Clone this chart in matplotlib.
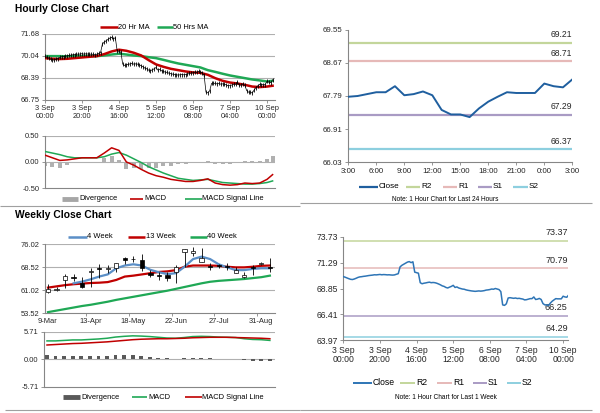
import matplotlib
matplotlib.use('Agg')
import matplotlib.pyplot as plt
from matplotlib.lines import Line2D
from matplotlib.patches import Rectangle

plt.rcParams['font.family'] = ['Liberation Sans', 'DejaVu Sans']

# ---------------- DATA ----------------
hour_tick_labels = ["3 Sep\n00:00", "3 Sep\n20:00", "4 Sep\n16:00", "5 Sep\n12:00",
                    "6 Sep\n08:00", "7 Sep\n04:00", "10 Sep\n00:00"]
hourly_close = [
    69.98, 69.92, 69.85, 69.78, 69.72, 69.70, 69.75, 69.82, 69.90, 69.95,
    69.97, 70.00, 70.02, 70.05, 70.08, 70.10, 70.12, 70.15, 70.14, 70.16,
    70.18, 70.15, 70.17, 70.16, 70.14, 70.15, 70.13, 70.12, 70.14, 70.20,
    70.25, 70.90, 71.05, 71.15, 71.25, 71.35, 71.40, 71.30, 71.38, 70.40,
    70.35, 70.30, 69.40, 69.30, 69.35, 69.38, 69.42, 69.45, 69.40, 69.42,
    69.40, 69.35, 69.28, 69.20, 69.10, 69.05, 68.95, 68.90, 68.98, 69.05,
    69.15, 68.95, 69.00, 68.90, 68.85, 68.80, 68.78, 68.72, 68.68, 68.65,
    68.62, 68.60, 68.58, 68.60, 68.62, 68.60, 68.62, 68.65, 68.70, 68.72,
    68.75, 68.80, 68.78, 68.85, 68.80, 68.75, 68.55, 67.30, 67.25, 67.40,
    67.95, 67.98, 67.95, 67.92, 67.95, 67.90, 67.92, 67.88, 67.85,
    67.77, 67.79, 67.84, 67.89, 67.89, 68.05, 67.81, 67.84, 67.91, 67.81,
    67.42, 67.30, 67.30, 67.23, 67.46, 67.64, 67.77, 67.89, 67.87, 67.87,
    67.87, 68.12, 68.05, 68.02, 68.23]

# hour indices at which the moving averages / MACD were read
ma_hours = [0, 4, 8, 12, 16, 20, 24, 28, 32, 36, 40, 44, 48, 52, 56, 60, 64, 68,
            72, 76, 80, 84, 88, 92, 96, 100, 104, 108, 112, 116, 120, 123]
ma20_hr = [69.85, 69.80, 69.78, 69.80, 69.85, 69.90, 69.95, 70.00, 70.15, 70.35,
           70.48, 70.40, 70.25, 70.05, 69.70, 69.38, 69.20, 69.05, 68.95, 68.85,
           68.78, 68.75, 68.60, 68.35, 68.15, 68.02, 67.95, 67.85, 67.72, 67.68,
           67.72, 67.78]
ma50_hr = [70.00, 70.00, 70.00, 69.98, 70.00, 70.00, 70.00, 70.00, 70.05, 70.12,
           70.18, 70.12, 70.05, 70.00, 69.92, 69.85, 69.72, 69.58, 69.45, 69.35,
           69.25, 69.15, 68.95, 68.82, 68.68, 68.55, 68.45, 68.35, 68.25, 68.18,
           68.10, 68.15]
macd_hr = [0.13, 0.08, 0.03, 0.04, 0.06, 0.08, 0.08, 0.08, 0.17, 0.27,
           0.22, 0.00, -0.06, -0.14, -0.21, -0.26, -0.29, -0.33, -0.35, -0.37,
           -0.37, -0.35, -0.32, -0.40, -0.43, -0.44, -0.43, -0.40, -0.41, -0.40,
           -0.33, -0.24]
signal_hr = [0.20, 0.17, 0.14, 0.10, 0.08, 0.08, 0.08, 0.08, 0.10, 0.15,
             0.18, 0.13, 0.06, -0.01, -0.09, -0.15, -0.21, -0.26, -0.31, -0.33,
             -0.35, -0.34, -0.33, -0.36, -0.39, -0.40, -0.41, -0.42, -0.42, -0.41,
             -0.39, -0.36]

day_tick_labels = ["3:00", "6:00", "9:00", "12:00", "15:00", "18:00", "21:00", "0:00", "3:00"]
day_close = [67.77, 67.79, 67.84, 67.89, 67.89, 68.05, 67.81, 67.84, 67.91, 67.81,
             67.42, 67.30, 67.30, 67.23, 67.46, 67.64, 67.77, 67.89, 67.87, 67.87,
             67.87, 68.12, 68.05, 68.02, 68.23]
pivot_names = ["R2", "R1", "S1", "S2"]
pivot_day = [69.21, 68.71, 67.29, 66.37]
pivot_week = [73.37, 70.79, 66.25, 64.29]

week_tick_labels = ["9-Mar", "13-Apr", "18-May", "22-Jun", "27-Jul", "31-Aug"]
wk_open = [60.5, 61.1, 64.4, 65.2, 63.4, 67.0, 68.3, 68.1, 68.2, 71.6, 71.3, 70.8, 66.8, 66.1,
           65.9, 67.1, 73.4, 73.1, 70.3, 69.0, 69.2, 68.9, 66.8, 65.3, 68.6, 69.7, 68.7]
wk_high = [63.2, 62.0, 66.2, 66.3, 65.2, 68.2, 69.5, 69.3, 69.9, 72.0, 72.3, 72.8, 67.7, 67.1,
           66.9, 69.3, 74.6, 75.3, 74.7, 70.0, 69.5, 69.8, 68.7, 67.1, 69.3, 70.2, 71.5]
wk_low = [60.3, 60.8, 61.7, 64.0, 61.7, 62.0, 64.9, 66.6, 66.9, 69.5, 70.4, 67.2, 65.5, 64.4,
          64.1, 63.3, 68.6, 72.3, 70.2, 67.6, 68.2, 67.6, 66.6, 65.1, 66.0, 69.2, 67.1]
wk_close = [61.6, 61.5, 65.8, 64.9, 62.1, 67.4, 68.1, 68.3, 69.8, 71.0, 71.1, 68.2, 66.1, 65.8,
            64.9, 68.7, 74.4, 73.9, 71.4, 68.7, 69.0, 68.6, 67.6, 66.0, 68.4, 69.9, 68.3]
ma4_wk = [None, None, None, 63.3, 63.85, 64.6, 65.5, 66.2, 68.2, 69.1, 69.5, 69.1, 67.7, 66.9,
          66.3, 66.6, 68.7, 71.2, 72.0, 71.2, 69.5, 68.5, 67.6, 67.6, 68.0, 68.2, 68.2]
ma13_wk = [61.9, 62.3, 62.7, 63.0, 63.2, 63.4, 63.5, 63.7, 64.4, 65.5, 65.8, 66.2, 66.6, 67.0,
           67.2, 67.6, 68.7, 69.1, 69.1, 69.1, 69.0, 68.7, 68.5, 68.5, 68.7, 69.0, 69.1]
ma40_wk = [53.9, 54.4, 54.9, 55.4, 55.9, 56.3, 56.8, 57.3, 57.9, 58.4, 58.9, 59.4, 59.9, 60.4,
           60.9, 61.5, 62.1, 62.7, 63.3, 63.8, 64.1, 64.3, 64.5, 64.7, 65.0, 65.3, 65.8]
macd_wk = [3.80, 3.80, 3.90, 4.00, 4.00, 4.10, 4.20, 4.35, 4.60, 4.75, 4.85, 4.80, 4.70, 4.55,
           4.40, 4.35, 4.50, 4.70, 4.75, 4.70, 4.60, 4.55, 4.50, 4.25, 4.10, 4.05, 3.90]
signal_wk = [2.95, 3.05, 3.15, 3.25, 3.30, 3.40, 3.50, 3.60, 3.75, 3.90, 4.05, 4.15, 4.20, 4.25,
             4.25, 4.30, 4.35, 4.45, 4.50, 4.55, 4.55, 4.55, 4.50, 4.45, 4.40, 4.35, 4.25]

# ---------------- STYLE ----------------
RED = '#c00000'
GREEN = '#1fa855'
BLUE_DARK = '#1f5f9f'
BLUE = '#2e75b6'
BLUE_WK = '#5b8fc7'
PIV_COLORS = ['#c3d69b', '#e6b9b8', '#a99bc4', '#8dcfdf']
AXC = '#868686'
GRIDC = '#b0b0b0'
FS_L = 5.4

W, H = 600, 413
fig = plt.figure(figsize=(6, 4.13), dpi=100)
fig.patch.set_facecolor('white')


def box(l, t, r, b):
    return [l / W, 1 - b / H, (r - l) / W, (b - t) / H]


def ftext(x, y, s, **kw):
    kw.setdefault('va', 'center')
    fig.text(x / W, 1 - y / H, s, **kw)


def fline(x0, x1, y, color, lw):
    fig.add_artist(Line2D([x0 / W, x1 / W], [1 - y / H, 1 - y / H], color=color, lw=lw,
                          transform=fig.transFigure, solid_capstyle='butt'))


def style(ax, fs):
    for s in ['top', 'right']:
        ax.spines[s].set_visible(False)
    for s in ['left', 'bottom']:
        ax.spines[s].set_color(AXC)
        ax.spines[s].set_linewidth(0.8)
    ax.tick_params(labelsize=fs, length=2.5, width=0.6, color=AXC, pad=1.5,
                   labelcolor='#262626')
    ax.set_facecolor('none')


def hgrid(ax, vals):
    for v in vals:
        ax.axhline(v, color=GRIDC, lw=0.8, zorder=0)


# ---------------- A: Hourly close ----------------
axA = fig.add_axes(box(45, 33.7, 275, 99.5))
style(axA, FS_L)
yA = [71.68, 70.04, 68.39, 66.75]
hgrid(axA, yA[:3])
hx = list(range(len(hourly_close)))
axA.plot(ma_hours, ma20_hr, color=RED, lw=1.8, zorder=3)
axA.plot(ma_hours, ma50_hr, color=GREEN, lw=1.8, zorder=2)
axA.plot(hx, hourly_close, color='black', lw=0.5, marker='|', ms=2.2, mew=0.6, zorder=4)
axA.set_ylim(66.75, 71.68)
axA.set_yticks(yA)
axA.set_yticklabels([f"{v:.2f}" for v in yA])
axA.set_xlim(0, 124.3)
axA.set_xticks(range(0, 121, 20))
axA.set_xticklabels(hour_tick_labels, linespacing=1.1)

ftext(15, 9, "Hourly Close Chart", fontsize=7.4, fontweight='bold')
fline(100, 118, 27.3, RED, 1.8)
ftext(118, 27.3, "20 Hr MA", fontsize=FS_L)
fline(157, 173, 27.3, GREEN, 1.8)
ftext(173, 27.3, "50 Hrs MA", fontsize=FS_L)

# ---------------- B: Hourly MACD ----------------
axB = fig.add_axes(box(45, 135.7, 275, 188.3))
style(axB, FS_L)
hgrid(axB, [0.5, 0.0])
div_hr = [m - s for m, s in zip(macd_hr, signal_hr)]
axB.bar(ma_hours, div_hr, width=2.2, color='#b0b0b0', zorder=1)
axB.plot(ma_hours, signal_hr, color=GREEN, lw=1.1, zorder=3)
axB.plot(ma_hours, macd_hr, color=RED, lw=1.1, zorder=4)
axB.set_ylim(-0.5, 0.5)
axB.set_yticks([0.5, 0.0, -0.5])
axB.set_yticklabels(["0.50", "0.00", "-0.50"])
axB.set_xlim(0, 124.3)
axB.set_xticks([])

fline(62, 78, 199, '#a6a6a6', 3.5)
ftext(79, 199, "Divergence", fontsize=FS_L)
fline(130, 143, 199, RED, 1.2)
ftext(144, 199, "MACD", fontsize=FS_L)
fline(185, 202, 199, GREEN, 1.2)
ftext(202, 199, "MACD Signal Line", fontsize=FS_L)

# ---------------- C: 24h chart ----------------
axC = fig.add_axes(box(348.3, 29.7, 572.3, 162.3))
style(axC, 5.7)
for v, c in zip(pivot_day, PIV_COLORS):
    axC.axhline(v, color=c, lw=1.6, zorder=1)
    axC.annotate(f"{v:.2f}", xy=(24, v), xytext=(0, 2.5), textcoords='offset points',
                 ha='right', va='bottom', fontsize=6.2, color='#262626')
axC.plot(range(len(day_close)), day_close, color=BLUE_DARK, lw=1.4, zorder=3)
yC = [69.55, 68.67, 67.79, 66.91, 66.03]
axC.set_ylim(66.03, 69.55)
axC.set_yticks(yC)
axC.set_yticklabels([f"{v:.2f}" for v in yC])
axC.set_xlim(0, 24)
axC.set_xticks(range(0, 25, 3))
axC.set_xticklabels(day_tick_labels)

fline(359, 378, 186.7, BLUE_DARK, 1.6)
ftext(379, 186.7, "Close", fontsize=5.9)
legC = [(406, 420, 421), (443, 457, 458), (478, 492, 493), (513, 528, 529)]
for (a, b, t), n, c in zip(legC, pivot_names, PIV_COLORS):
    fline(a, b, 186.7, c, 1.6)
    ftext(t, 186.7, n, fontsize=5.9)
ftext(445, 200, "Note: 1 Hour Chart for Last 24 Hours", fontsize=4.7, ha='center')

# ---------------- D: Weekly close ----------------
axD = fig.add_axes(box(45, 244.3, 275, 313.3))
style(axD, FS_L)
yD = [76.02, 68.52, 61.02, 53.52]
hgrid(axD, yD[:3])
wx = list(range(len(wk_close)))
axD.plot(wx, ma40_wk, color=GREEN, lw=1.6, zorder=2)
axD.plot(wx, ma13_wk, color=RED, lw=1.6, zorder=2)
axD.plot([x for x, v in zip(wx, ma4_wk) if v is not None],
         [v for v in ma4_wk if v is not None], color=BLUE_WK, lw=1.6, zorder=2)
for x, o, h, l, c in zip(wx, wk_open, wk_high, wk_low, wk_close):
    axD.vlines(x, l, h, color='black', lw=0.6, zorder=4)
    lo, hi = min(o, c), max(o, c)
    face = 'white' if c >= o else 'black'
    axD.add_patch(Rectangle((x - 0.25, lo), 0.5, max(hi - lo, 0.08), facecolor=face,
                            edgecolor='black', lw=0.5, zorder=5))
axD.set_ylim(53.52, 76.02)
axD.set_yticks(yD)
axD.set_yticklabels([f"{v:.2f}" for v in yD])
axD.set_xlim(-0.35, 26.6)
axD.set_xticks(range(0, 26, 5))
axD.set_xticklabels(week_tick_labels)
axD.tick_params(axis='x', which='major', length=0, pad=3.6)
axD.set_xticks([4.5, 9.5, 14.5, 19.5, 24.5], minor=True)
axD.tick_params(axis='x', which='minor', length=2.5, width=0.6, color=AXC)

ftext(15, 215, "Weekly Close Chart", fontsize=7.4, fontweight='bold')
fline(68, 87, 236.7, BLUE_WK, 1.8)
ftext(87, 236.7, "4 Week", fontsize=FS_L)
fline(128, 145, 236.7, RED, 1.8)
ftext(146, 236.7, "13 Week", fontsize=FS_L)
fline(190, 207, 236.7, GREEN, 1.8)
ftext(207, 236.7, "40 Week", fontsize=FS_L)

# ---------------- E: Weekly MACD ----------------
axE = fig.add_axes(box(44, 331.7, 275, 386.7))
style(axE, FS_L)
hgrid(axE, [5.71, 0.0])
div_wk = [m - s for m, s in zip(macd_wk, signal_wk)]
axE.bar(wx, div_wk, width=0.45, color='#595959', zorder=2)
axE.plot(wx, macd_wk, color=GREEN, lw=1.1, zorder=3)
axE.plot(wx, signal_wk, color=RED, lw=1.1, zorder=4)
axE.set_ylim(-5.71, 5.71)
axE.set_yticks([5.71, 0.0, -5.71])
axE.set_yticklabels(["5.71", "0.00", "-5.71"])
axE.set_xlim(-0.35, 26.6)
axE.set_xticks([])

fline(63, 80, 397.3, '#595959', 3.5)
ftext(81, 397.3, "Divergence", fontsize=FS_L)
fline(132, 147, 397.3, GREEN, 1.2)
ftext(148, 397.3, "MACD", fontsize=FS_L)
fline(185, 202, 397.3, RED, 1.2)
ftext(202, 397.3, "MACD Signal Line", fontsize=FS_L)

# ---------------- F: 1 week hourly ----------------
axF = fig.add_axes(box(343.3, 237, 567.7, 340))
style(axF, 6.2)
for v, c in zip(pivot_week, PIV_COLORS):
    axF.axhline(v, color=c, lw=1.1, zorder=1)
    axF.annotate(f"{v:.2f}", xy=(122.5, v), xytext=(0, 2.5), textcoords='offset points',
                 ha='right', va='bottom', fontsize=6.5, color='#262626')
axF.plot(hx, hourly_close, color=BLUE, lw=1.1, zorder=3)
yF = [73.73, 71.29, 68.85, 66.41, 63.97]
axF.set_ylim(63.97, 73.73)
axF.set_yticks(yF)
axF.set_yticklabels([f"{v:.2f}" for v in yF])
axF.set_xlim(0, 122.5)
axF.set_xticks(range(0, 121, 20))
axF.set_xticklabels(hour_tick_labels, linespacing=1.1)

fline(353, 372, 382.7, BLUE, 1.4)
ftext(373, 382.7, "Close", fontsize=6.2)
legF = [(400, 415, 416), (437, 452, 453), (473, 487, 488), (507, 521, 522)]
for (a, b, t), n, c in zip(legF, pivot_names, PIV_COLORS):
    fline(a, b, 382.7, c, 1.4)
    ftext(t, 382.7, n, fontsize=6.2)
ftext(446, 397.3, "Note: 1 Hour Chart for Last 1 Week", fontsize=4.7, ha='center')

# ---------------- separators ----------------
fline(0, 300, 206, '#a0a0a0', 0.8)
fline(300, 592, 203.5, '#a0a0a0', 0.8)
fline(5, 300, 410, '#a0a0a0', 0.8)
fline(300, 592, 410, '#a0a0a0', 0.8)

fig.savefig('out.png', dpi=100, facecolor='white')
